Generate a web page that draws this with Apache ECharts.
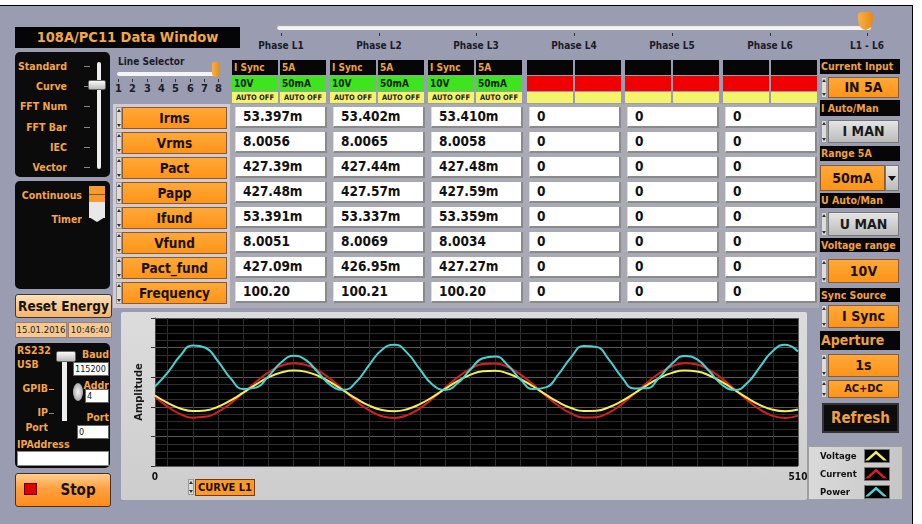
<!DOCTYPE html>
<html>
<head>
<meta charset="utf-8">
<script src="https://cdn.jsdelivr.net/npm/echarts@6.0.0/dist/echarts.min.js"></script>
<style>
  body { margin: 0; width: 922px; height: 524px; overflow: hidden; background: #fff;
         font-family: "DejaVu Sans Condensed", "DejaVu Sans", sans-serif; font-weight: bold; }
  .a { position: absolute; box-sizing: border-box; white-space: nowrap; overflow: hidden; }
  .blk { background: #0b0b0b; border-radius: 5px; }
  .ot { color: #f2a446; }
  .ob { background: linear-gradient(#ffa838, #ff9418); border: 1px solid #8a5a30; color: #1a1208; text-align: center; }
  .gb { background: linear-gradient(#e4e4e4, #bcbcbc); border: 1px solid #777; color: #1a1a1a; text-align: center; }
  .sp { background: #dcdcdc; border: 1px solid #999; }
</style>
</head>
<body>
<div id="ui"></div>
<div id="chart" class="a" style="left:0;top:0;width:922px;height:524px;z-index:5"></div>
<script>
// waveform samples (x in samples, amplitude in plot units)
const xValues = [0, 10, 20, 30, 40, 50, 60, 70, 80, 90, 100, 110, 120, 130, 140, 150, 160, 170, 180, 190,
  200, 210, 220, 230, 240, 250, 260, 270, 280, 290, 300, 310, 320, 330, 340, 350, 360, 370, 380, 390,
  400, 410, 420, 430, 440, 450, 460, 470, 480, 490, 500, 510];
const voltage = [-0.47, -1.47, -2.22, -2.58, -2.50, -1.99, -1.14, -0.09, 1.01, 1.97, 2.63, 2.90, 2.72, 2.13,
  1.22, 0.14, -0.94, -1.85, -2.43, -2.60, -2.32, -1.65, -0.68, 0.41, 1.47, 2.31, 2.81, 2.87, 2.50, 1.75,
  0.74, -0.36, -1.38, -2.16, -2.56, -2.53, -2.06, -1.24, -0.20, 0.90, 1.88, 2.58, 2.89, 2.76, 2.20, 1.32,
  0.25, -0.84, -1.77, -2.39, -2.60, -2.37];
const current = [-0.63, -1.98, -2.98, -3.47, -3.36, -2.68, -1.54, -0.12, 1.36, 2.65, 3.54, 3.90, 3.66, 2.86,
  1.64, 0.18, -1.27, -2.49, -3.27, -3.50, -3.12, -2.22, -0.92, 0.55, 1.97, 3.11, 3.77, 3.86, 3.36, 2.35,
  1.00, -0.49, -1.86, -2.90, -3.45, -3.40, -2.78, -1.67, -0.27, 1.21, 2.53, 3.47, 3.89, 3.71, 2.96, 1.77,
  0.33, -1.13, -2.38, -3.22, -3.50, -3.19];
const power = [0.74, 2.61, 4.90, 6.30, 5.98, 4.14, 1.84, 0.40, 0.59, 2.14, 3.98, 4.89, 4.27, 2.53, 0.82,
  0.30, 1.44, 3.67, 5.71, 6.39, 5.29, 3.08, 1.02, 0.28, 1.17, 3.01, 4.57, 4.80, 3.57, 1.68, 0.39, 0.62,
  2.38, 4.69, 6.23, 6.10, 4.37, 2.05, 0.48, 0.50, 1.95, 3.82, 4.87, 4.40, 2.73, 0.95, 0.28, 1.26, 3.43,
  5.55, 6.40, 5.47];
const xTickLabels = [0, 510];

// table texts
const phaseNames = ['Phase L1', 'Phase L2', 'Phase L3', 'Phase L4', 'Phase L5', 'Phase L6', 'L1 - L6'];
const rowLabels = ['Irms', 'Vrms', 'Pact', 'Papp', 'Ifund', 'Vfund', 'Pact_fund', 'Frequency'];
const phaseL1 = ['53.397m', '8.0056', '427.39m', '427.48m', '53.391m', '8.0051', '427.09m', '100.20'];
const phaseL2 = ['53.402m', '8.0065', '427.44m', '427.57m', '53.337m', '8.0069', '426.95m', '100.21'];
const phaseL3 = ['53.410m', '8.0058', '427.48m', '427.59m', '53.359m', '8.0034', '427.27m', '100.20'];
const phaseL4 = ['0', '0', '0', '0', '0', '0', '0', '0'];
const phaseL5 = ['0', '0', '0', '0', '0', '0', '0', '0'];
const phaseL6 = ['0', '0', '0', '0', '0', '0', '0', '0'];
const statusTop = ['I Sync', '5A'];
const statusMid = ['10V', '50mA'];
const statusBot = ['AUTO OFF', 'AUTO OFF'];
const modeItems = ['Standard', 'Curve', 'FFT Num', 'FFT Bar', 'IEC', 'Vector'];
const lineNumbers = ['1', '2', '3', '4', '5', '6', '7', '8'];
const controlLabels = ['Current Input', 'I Auto/Man', 'Range 5A', 'U Auto/Man', 'Voltage range', 'Sync Source', 'Aperture'];
const controlValues = ['IN 5A', 'I MAN', '50mA', 'U MAN', '10V', 'I Sync', '1s', 'AC+DC'];
const seriesNames = ['Voltage', 'Current', 'Power'];

const ui = document.getElementById('ui');
function el(x, y, w, h, cls, style, text) {
  const d = document.createElement('div');
  d.className = 'a ' + (cls || '');
  d.style.cssText = `left:${x}px;top:${y}px;width:${w}px;height:${h}px;` + (style || '');
  if (text != null) d.textContent = text;
  ui.appendChild(d);
  return d;
}
function spin(x, y, h) {
  const s = el(x, y, 6, h, 'sp', '');
  const mk = (up, top) => {
    const t = document.createElement('div');
    t.style.cssText = `position:absolute;left:0;top:${top}px;width:0;height:0;border-left:2px solid transparent;` +
      `border-right:2px solid transparent;${up ? 'border-bottom' : 'border-top'}:3px solid #333`;
    s.appendChild(t);
  };
  mk(true, 1);
  mk(false, h - 6);
}

// frame
el(0, 5, 913, 519, '', 'background:#9a9cb1;border-top:1px solid #000;border-right:1px solid #000;');

// title
el(15, 27, 225, 21, '', 'background:#050505;color:#f0a848;font-size:14.5px;line-height:21px;text-align:center;', '108A/PC11 Data Window');

// phase slider
el(277, 25, 594, 5, '', 'background:#f4f4f6;border-radius:3px;box-shadow:inset 0 1px 1px #999;');
el(858, 12, 15, 18, '', 'background:linear-gradient(90deg,#f7b04a,#e88a10);border-radius:4px 4px 8px 8px/4px 4px 12px 12px;');
phaseNames.forEach((p, i) => {
  const cx = Math.round(281 + 97.7 * i);
  el(cx, 33, 1, 3, '', 'background:#333');
  el(cx - 40, 38, 80, 16, '', 'text-align:center;font-size:10px;line-height:16px;color:#1c1c28', p);
});

// mode panel
el(15, 52, 95, 125, 'blk');
modeItems.forEach((m, i) => {
  const y = Math.round(66 + 20.2 * i);
  el(15, y - 8, 52, 16, 'ot', 'text-align:right;font-size:10.5px;line-height:16px;', m);
  el(84, y, 6, 1, '', 'background:#888');
});
el(97, 62, 4, 107, '', 'background:#eee;border-radius:2px;');
el(88, 80, 18, 10, '', 'background:linear-gradient(#fafafa,#bbb);border:1px solid #666;border-radius:2px;');

// line selector
el(118, 55, 100, 14, '', 'font-size:10px;line-height:14px;color:#1c1c28', 'Line Selector');
el(117, 72, 101, 4, '', 'background:#f4f4f4;border-radius:2px;');
el(212, 62, 8, 15, '', 'background:linear-gradient(90deg,#f7b04a,#e88a10);border-radius:3px 3px 5px 5px;');
lineNumbers.forEach((n, i) => {
  const x = Math.round(118 + 14.3 * i);
  el(x, 79, 1, 3, '', 'background:#333');
  el(x - 6, 83, 13, 12, '', 'text-align:center;font-size:11px;line-height:12px;color:#1c1c28', n);
});

// continuous / timer
el(15, 181, 95, 108, 'blk');
el(16, 187, 66, 16, 'ot', 'text-align:right;font-size:10.5px;line-height:16px', 'Continuous');
el(16, 211, 66, 16, 'ot', 'text-align:right;font-size:10.5px;line-height:16px', 'Timer');
el(89, 186, 16, 16, '', 'background:#f39a30;');
el(89, 194, 16, 1, '', 'background:#a05010');
el(89, 202, 16, 16, '', 'background:#e8e8e8');
el(89, 217, 16, 5, '', 'background:#e8e8e8;clip-path:polygon(0 0,100% 0,50% 100%)');

// reset + date
el(15, 294, 97, 24, '', 'background:linear-gradient(#ffe0b8,#f6b468);border:1px solid #3a3a3a;border-radius:3px;text-align:center;font-size:13.5px;line-height:22px;color:#141414', 'Reset Energy');
el(15, 322, 52, 16, '', 'background:#f7c890;border:1px solid #9a8070;font-size:9.5px;font-weight:normal;line-height:14px;text-align:center;color:#222', '15.01.2016');
el(68, 322, 44, 16, '', 'background:#f7c890;border:1px solid #9a8070;font-size:9.5px;font-weight:normal;line-height:14px;text-align:center;color:#222', '10:46:40');

// communication panel
el(15, 343, 95, 125, 'blk');
const small = 'font-size:10.5px;line-height:13px;';
const entry = 'background:#fff;border:1px solid #666;color:#111;font-size:9px;line-height:12px;font-weight:normal;padding-left:1px';
el(17, 344, 40, 13, 'ot', small, 'RS232');
el(17, 358, 40, 13, 'ot', small, 'USB');
el(17, 382, 31, 13, 'ot', small + 'text-align:right', 'GPIB');
el(49, 389, 5, 1, '', 'background:#f2a446');
el(17, 406, 31, 13, 'ot', small + 'text-align:right', 'IP');
el(49, 413, 5, 1, '', 'background:#888');
el(17, 421, 31, 13, 'ot', small + 'text-align:right', 'Port');
el(17, 438, 60, 13, 'ot', small, 'IPAddress');
el(17, 451, 92, 15, '', 'background:#fff;border:1px solid #888;');
el(62, 355, 5, 66, '', 'background:#eee');
el(56, 351, 20, 11, '', 'background:linear-gradient(#fafafa,#bbb);border:1px solid #666;border-radius:2px');
el(78, 348, 31, 13, 'ot', small + 'text-align:right', 'Baud');
el(73, 362, 36, 14, '', entry, '115200');
el(78, 379, 31, 13, 'ot', small + 'text-align:right', 'Addr');
el(73, 383, 10, 18, '', 'background:radial-gradient(#f4f4f4,#8a8a8a);border-radius:50%;');
el(85, 389, 24, 14, '', entry, '4');
el(78, 411, 31, 13, 'ot', small + 'text-align:right', 'Port');
el(77, 425, 32, 14, '', entry, '0');

// stop
el(15, 473, 96, 34, '', 'background:linear-gradient(#ffcf90,#ffa040 45%,#ff8c18);border:1px solid #4a3020;border-radius:3px;');
el(24, 483, 13, 12, '', 'background:#e00000;border:1px solid #600');
el(48, 473, 60, 34, '', 'font-size:15px;line-height:34px;text-align:center;color:#141414', 'Stop');

// table
el(113, 104, 706, 204, '', 'background:#a9aab3;');
el(113, 104, 117, 204, '', 'background:#d2ccd2;');
const phaseValues = [phaseL1, phaseL2, phaseL3, phaseL4, phaseL5, phaseL6];
rowLabels.forEach((r, i) => {
  const y = 107 + 25 * i;
  spin(116, y, 22);
  el(122, y, 105, 22, 'ob', 'font-size:13.5px;line-height:20px', r);
  phaseValues.forEach((col, c) => {
    el(235 + 98 * c, y, 92, 21, '', 'background:#fff;border-right:2px solid #8a8a8a;border-bottom:2px solid #8a8a8a;' +
      'border-left:1px solid #ddd;font-size:13.5px;line-height:19px;padding-left:7px;color:#111', col[i]);
  });
});

// status strips
for (let g = 0; g < 6; g++) {
  const gx = Math.round(232 + 98.2 * g);
  const on = g < 3;
  for (let k = 0; k < 2; k++) {
    const x = gx + k * 48;
    el(x, 60, 46, 15, '', 'background:#060606;color:#f0a040;font-size:10px;line-height:15px;padding-left:2px', on ? statusTop[k] : '');
    el(x, 76, 46, 15, '', (on ? 'background:#3ee41e;color:#142008;' : 'background:#f00000;') + 'font-size:10px;line-height:15px;padding-left:2px', on ? statusMid[k] : '');
    el(x, 92, 46, 11, '', 'background:#f4f46a;font-size:7.5px;line-height:11px;color:#222;text-align:center', on ? statusBot[k] : '');
  }
}

// right controls
const lab = (t, y, h, fs) => el(820, y, 80, h, '', `background:#060606;color:#f0a040;font-size:${fs || 10.5}px;line-height:${h}px;padding-left:1px`, t);
const btn = (t, y, h, cls, fs) => { spin(821, y, h); el(828, y, 71, h, cls, `font-size:${fs || 14}px;line-height:${h - 2}px`, t); };
lab(controlLabels[0], 59, 15);
btn(controlValues[0], 77, 21, 'ob');
lab(controlLabels[1], 100, 16);
btn(controlValues[1], 120, 23, 'gb');
lab(controlLabels[2], 146, 15);
el(820, 165, 65, 26, 'ob', 'font-size:14px;line-height:24px;', controlValues[2]);
const dd = el(885, 165, 14, 26, '', 'background:linear-gradient(#e8e8e8,#bbb);border:1px solid #777');
dd.innerHTML = '<div style="position:absolute;left:2px;top:10px;width:0;height:0;border-left:4px solid transparent;border-right:4px solid transparent;border-top:5px solid #111"></div>';
lab(controlLabels[3], 193, 15);
btn(controlValues[3], 212, 24, 'gb');
lab(controlLabels[4], 238, 14);
btn(controlValues[4], 259, 24, 'ob');
lab(controlLabels[5], 288, 14);
btn(controlValues[5], 305, 23, 'ob');
lab(controlLabels[6], 331, 19, 14);
btn(controlValues[6], 354, 23, 'ob');
btn(controlValues[7], 380, 18, 'ob', 11);
el(822, 403, 77, 30, '', 'background:#0c0c0c;border:2px solid #333;color:#f0a040;font-size:15px;line-height:26px;text-align:center', 'Refresh');

// chart panel + legend box
el(121, 312, 686, 188, '', 'background:linear-gradient(#dcdcdc,#cdcdcd);border-radius:2px;');
spin(188, 479, 16);
el(195, 479, 60, 17, '', 'background:#ff9a2a;border:1px solid #7a3a10;font-size:11px;line-height:15px;text-align:center;color:#1a1008', 'CURVE L1');
el(808, 446, 95, 54, '', 'background:linear-gradient(90deg,#dadada,#c6c6c6);border:1px solid #a0a0a0;');

// ---- waveform chart ----
const font = '"DejaVu Sans Condensed", "DejaVu Sans", sans-serif';
const colors = ['#f2f05a', '#d42020', '#48d2d2'];
const waves = [voltage, current, power];
const chart = echarts.init(document.getElementById('chart'));
chart.setOption({
  backgroundColor: 'transparent',
  animation: false,
  grid: { left: 155, top: 318, width: 643, height: 148, show: true, backgroundColor: '#000', borderWidth: 0 },
  xAxis: {
    type: 'value', min: 0, max: 510, interval: 20,
    axisLine: { show: false },
    axisTick: { show: true, customValues: xTickLabels, length: 4, lineStyle: { color: '#333' } },
    axisLabel: { customValues: xTickLabels, color: '#111', fontSize: 10, fontWeight: 'bold', margin: 6, fontFamily: font },
    splitLine: { show: true, lineStyle: { color: '#5a5a5a', width: 1 } },
    minorTick: { show: false, splitNumber: 2 },
    minorSplitLine: { show: true, lineStyle: { color: '#2e2e2e' } },
  },
  yAxis: {
    type: 'value', min: -10, max: 10, interval: 4,
    name: 'Amplitude', nameLocation: 'middle', nameGap: 10, nameRotate: 90,
    nameTextStyle: { color: '#1a1a1a', fontSize: 11, fontWeight: 'bold', fontFamily: font },
    axisLine: { show: true, lineStyle: { color: '#444' } },
    axisTick: { show: true, length: 4, lineStyle: { color: '#333' } },
    axisLabel: { show: false },
    splitLine: { lineStyle: { color: '#5a5a5a' } },
    minorTick: { show: false, splitNumber: 4 },
    minorSplitLine: { show: true, lineStyle: { color: '#2e2e2e' } },
  },
  // one legend per series so each row sits on its own black swatch
  legend: seriesNames.map((n, i) => ({
    orient: 'vertical', left: 820, top: 449 + 18 * i, padding: 0, itemWidth: 22, itemHeight: 12,
    align: 'right', selectedMode: false,
    icon: 'path://M0,10L11,0L22,10L18.5,10L11,3.5L3.5,10Z',
    formatter: (s) => `{t|${s}}`,
    textStyle: { rich: { t: { width: 40, align: 'left', color: '#111', fontSize: 9.5, fontWeight: 'bold', fontFamily: font, lineHeight: 12, padding: [3, 0, 0, 0] } } },
    data: [n],
  })),
  graphic: seriesNames.map((n, i) => ({
    type: 'rect', left: 864, top: 449 + 18 * i, z: 1,
    shape: { width: 25, height: 13 },
    style: { fill: '#000', stroke: '#777', lineWidth: 1 },
  })),
  series: seriesNames.map((n, i) => ({
    name: n, type: 'line', showSymbol: false, smooth: true, z: i === 1 ? 2 : 3,
    lineStyle: { color: colors[i], width: 2 },
    itemStyle: { color: colors[i] },
    data: xValues.map((x, k) => [x, waves[i][k]]),
  })),
});
</script>
</body>
</html>
